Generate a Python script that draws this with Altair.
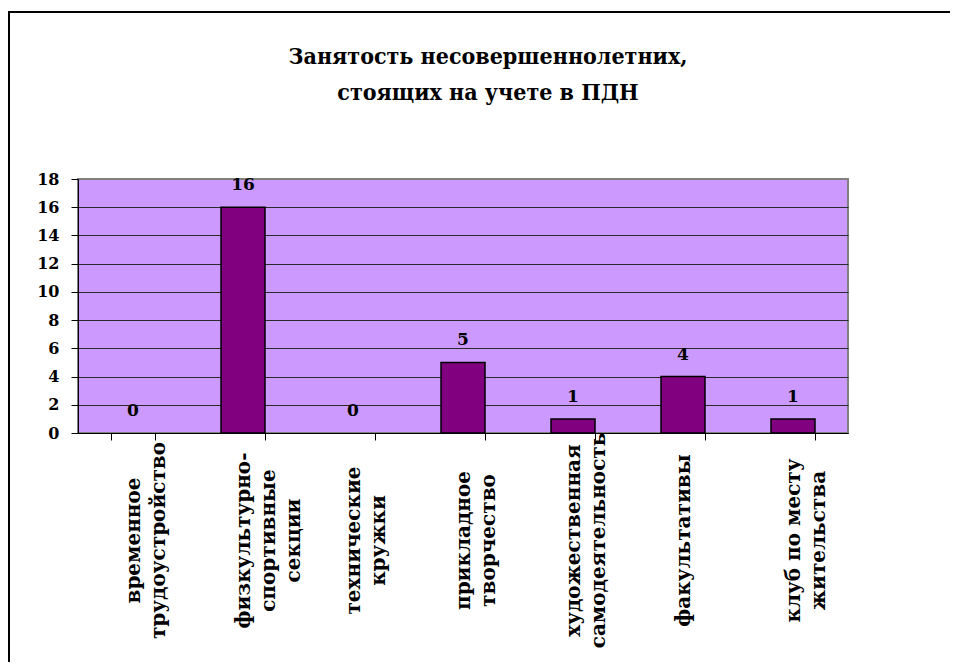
import altair as alt
import pandas as pd

categories = [
    "временное\nтрудоустройство",
    "физкультурно-\nспортивные\nсекции",
    "технические\nкружки",
    "прикладное\nтворчество",
    "художественная\nсамодеятельность",
    "факультативы",
    "клуб по месту\nжительства",
]
values = [0, 16, 0, 5, 1, 4, 1]
y_ticks = [0, 2, 4, 6, 8, 10, 12, 14, 16, 18]
title_lines = ["Занятость несовершеннолетних,", "стоящих на учете в ПДН"]

df = pd.DataFrame({"cat": categories, "val": values})
FONT = "DejaVu Serif"

x_enc = alt.X(
    "cat:N",
    sort=None,
    title=None,
    scale=alt.Scale(paddingInner=0.6, paddingOuter=0.3),
    axis=alt.Axis(
        labelAngle=270,
        labelAlign="center",
        labelBaseline="middle",
        labelExpr="split(datum.label, '\\n')",
        labelFont=FONT,
        labelFontSize=20,
        labelFontWeight="bold",
        labelColor="black",
        labelLineHeight=25,
        labelPadding=100,
        labelOverlap=False,
        labelFlush=False,
        labelLimit=0,
        tickBand="extent",
        tickColor="black",
        tickSize=7,
        domainColor="black",
        grid=False,
    ),
)
y_enc = alt.Y(
    "val:Q",
    title=None,
    scale=alt.Scale(domain=[0, 18], nice=False),
    axis=alt.Axis(
        values=y_ticks,
        labelFont=FONT,
        labelFontSize=16,
        labelFontWeight="bold",
        labelColor="black",
        labelPadding=12,
        labelOverlap=False,
        labelFlush=False,
        tickColor="black",
        tickSize=7,
        domainColor="black",
        grid=True,
        gridColor=alt.condition("datum.value == 18", alt.value("#808080"), alt.value("#2a2a2a")),
        gridWidth=1.2,
    ),
)

base = alt.Chart(df)
bars = base.mark_bar(color="#800080", stroke="black", strokeWidth=1.5).encode(
    x=x_enc,
    y=y_enc,
    strokeOpacity=alt.condition("datum.val == 0", alt.value(0), alt.value(1)),
)
labels = base.mark_text(
    dy=-17, baseline="alphabetic", font=FONT, fontSize=17, fontWeight="bold", color="black"
).encode(x=x_enc, y=y_enc, text="val:Q")

# decorative outer frame (top and left edges only), drawn as thin filled rects
frame_df = pd.DataFrame({"a": [0]})
frame_top = alt.Chart(frame_df).mark_rect(fill="black", strokeWidth=0).encode(
    x=alt.value(-70), x2=alt.value(872), y=alt.value(-168), y2=alt.value(-166)
)
frame_left = alt.Chart(frame_df).mark_rect(fill="black", strokeWidth=0).encode(
    x=alt.value(-70), x2=alt.value(-68), y=alt.value(-168), y2=alt.value(483)
)

chart = alt.layer(bars, labels, frame_top, frame_left).properties(
    width=770,
    height=254,
    background="white",
    autosize=alt.AutoSizeParams(type="none"),
    padding={"left": 70, "top": 171, "right": 102, "bottom": 229},
    title=alt.TitleParams(
        text=title_lines,
        font="DejaVu Serif Condensed",
        fontSize=23,
        fontWeight="bold",
        color="black",
        lineHeight=36,
        anchor="middle",
        frame="group",
        dx=25,
        offset=-94,
    ),
).configure_view(fill="#CC99FF", stroke="#808080", strokeWidth=2)

chart.save("out.html", embed_options={"renderer": "svg", "actions": False})
